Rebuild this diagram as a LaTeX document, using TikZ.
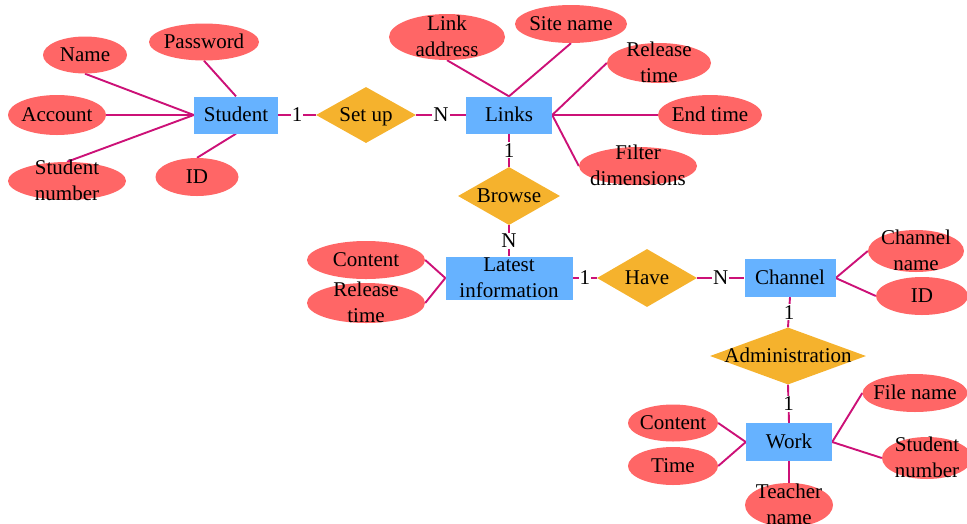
\documentclass[tikz,border=0pt]{standalone}
\usepackage{fontspec}
\setmainfont{Liberation Serif}
\usetikzlibrary{shapes.geometric,backgrounds}
\definecolor{attrred}{RGB}{255,102,102}
\definecolor{entblue}{RGB}{102,178,255}
\definecolor{relyellow}{RGB}{245,178,45}
\definecolor{linecol}{RGB}{204,17,119}
\newcommand{\ztxt}[1]{\makebox[0pt]{\raisebox{-0.33em}[0pt][0pt]{\begin{tabular}{@{}c@{}}#1\end{tabular}}}}
\tikzset{
  basefont/.style={font=\fontsize{21}{26}\selectfont},
  sz/.style 2 args={minimum width=#1pt, minimum height=#2pt},
  attr/.style={ellipse, fill=attrred, inner sep=0pt, basefont},
  ent/.style={rectangle, fill=entblue, inner sep=0pt, basefont},
  rel/.style={diamond, fill=relyellow, inner sep=0pt, basefont},
  card/.style={fill=white, inner sep=1pt, basefont},
  conn/.style={draw=linecol, line width=1.9pt},
}
\begin{document}
\begin{tikzpicture}[x=1pt,y=-1pt]
\useasboundingbox (0,0) rectangle (967,523);
% Student
\node[ent,sz={84}{37}] (stu) at (236,115) {\ztxt{Student}};
\node[attr,sz={84}{37}] (nm) at (85,55) {\ztxt{Name}};
\node[attr,sz={110}{37}] (pw) at (204,42) {\ztxt{Password}};
\node[attr,sz={98}{40}] (ac) at (57,115) {\ztxt{Account}};
\node[attr,sz={118}{38}] (sn) at (67,181) {\ztxt{Student\\number}};
\node[attr,sz={83}{38}] (id) at (197,177) {\ztxt{ID}};
\node[rel,sz={100}{56}] (su) at (366,115) {\ztxt{Set up}};
% Links
\node[ent,sz={86}{37}] (lk) at (509,115) {\ztxt{Links}};
\node[attr,sz={116}{46}] (la) at (447,37) {\ztxt{Link\\address}};
\node[attr,sz={112}{38}] (st) at (571,24) {\ztxt{Site name}};
\node[attr,sz={104}{40}] (rt) at (659,63) {\ztxt{Release\\time}};
\node[attr,sz={104}{40}] (et) at (710,115) {\ztxt{End time}};
\node[attr,sz={118}{38}] (fd) at (638,166) {\ztxt{Filter\\dimensions}};
\node[rel,sz={102}{58}] (br) at (509,196) {\ztxt{Browse}};
% Latest information
\node[ent,sz={127}{43}] (li) at (509,278) {\ztxt{Latest\\information}};
\node[attr,sz={118}{38}] (ct) at (366,260) {\ztxt{Content}};
\node[attr,sz={118}{40}] (rl) at (366,303) {\ztxt{Release\\time}};
\node[rel,sz={100}{58}] (hv) at (647,278) {\ztxt{Have}};
% Channel
\node[ent,sz={91}{38}] (ch) at (790,278) {\ztxt{Channel}};
\node[attr,sz={96}{42}] (cn) at (916,251) {\ztxt{Channel\\name}};
\node[attr,sz={92}{38}] (ci) at (922,296) {\ztxt{ID}};
\node[rel,sz={156}{57}] (ad) at (788,356) {\ztxt{Administration}};
% Work
\node[ent,sz={86}{38}] (wk) at (789,442) {\ztxt{Work}};
\node[attr,sz={90}{37}] (wc) at (673,423) {\ztxt{Content}};
\node[attr,sz={90}{38}] (wt) at (673,466) {\ztxt{Time}};
\node[attr,sz={105}{38}] (fn) at (915,393) {\ztxt{File name}};
\node[attr,sz={90}{42}] (ws) at (927,458) {\ztxt{Student\\number}};
\node[attr,sz={88}{44}] (tn) at (789,505) {\ztxt{Teacher\\name}};
\begin{pgfonlayer}{background}
\draw[conn] (nm.south) -- (stu.west);
\draw[conn] (ac.east) -- (stu.west);
\draw[conn] (sn.north) -- (stu.west);
\draw[conn] (pw.south) -- (stu.north);
\draw[conn] (id.north) -- (stu.south);
\draw[conn] (la.south) -- (lk.north);
\draw[conn] (st.south) -- (lk.north);
\draw[conn] (rt.west) -- (lk.east);
\draw[conn] (et.west) -- (lk.east);
\draw[conn] (fd.west) -- (lk.east);
\draw[conn] (ct.east) -- (li.west);
\draw[conn] (rl.east) -- (li.west);
\draw[conn] (cn.west) -- (ch.east);
\draw[conn] (ci.west) -- (ch.east);
\draw[conn] (wc.east) -- (wk.west);
\draw[conn] (wt.east) -- (wk.west);
\draw[conn] (fn.west) -- (wk.east);
\draw[conn] (ws.west) -- (wk.east);
\draw[conn] (tn.north) -- (wk.south);
\draw[conn] (stu.east) -- node[card]{1} (su.west);
\draw[conn] (su.east) -- node[card]{N} (lk.west);
\draw[conn] (lk.south) -- node[card]{1} (br.north);
\draw[conn] (br.south) -- node[card]{N} (li.north);
\draw[conn] (li.east) -- node[card]{1} (hv.west);
\draw[conn] (hv.east) -- node[card]{N} (ch.west);
\draw[conn] (ch.south) -- node[card]{1} (ad.north);
\draw[conn] (ad.south) -- node[card]{1} (wk.north);
\end{pgfonlayer}
\end{tikzpicture}
\end{document}
